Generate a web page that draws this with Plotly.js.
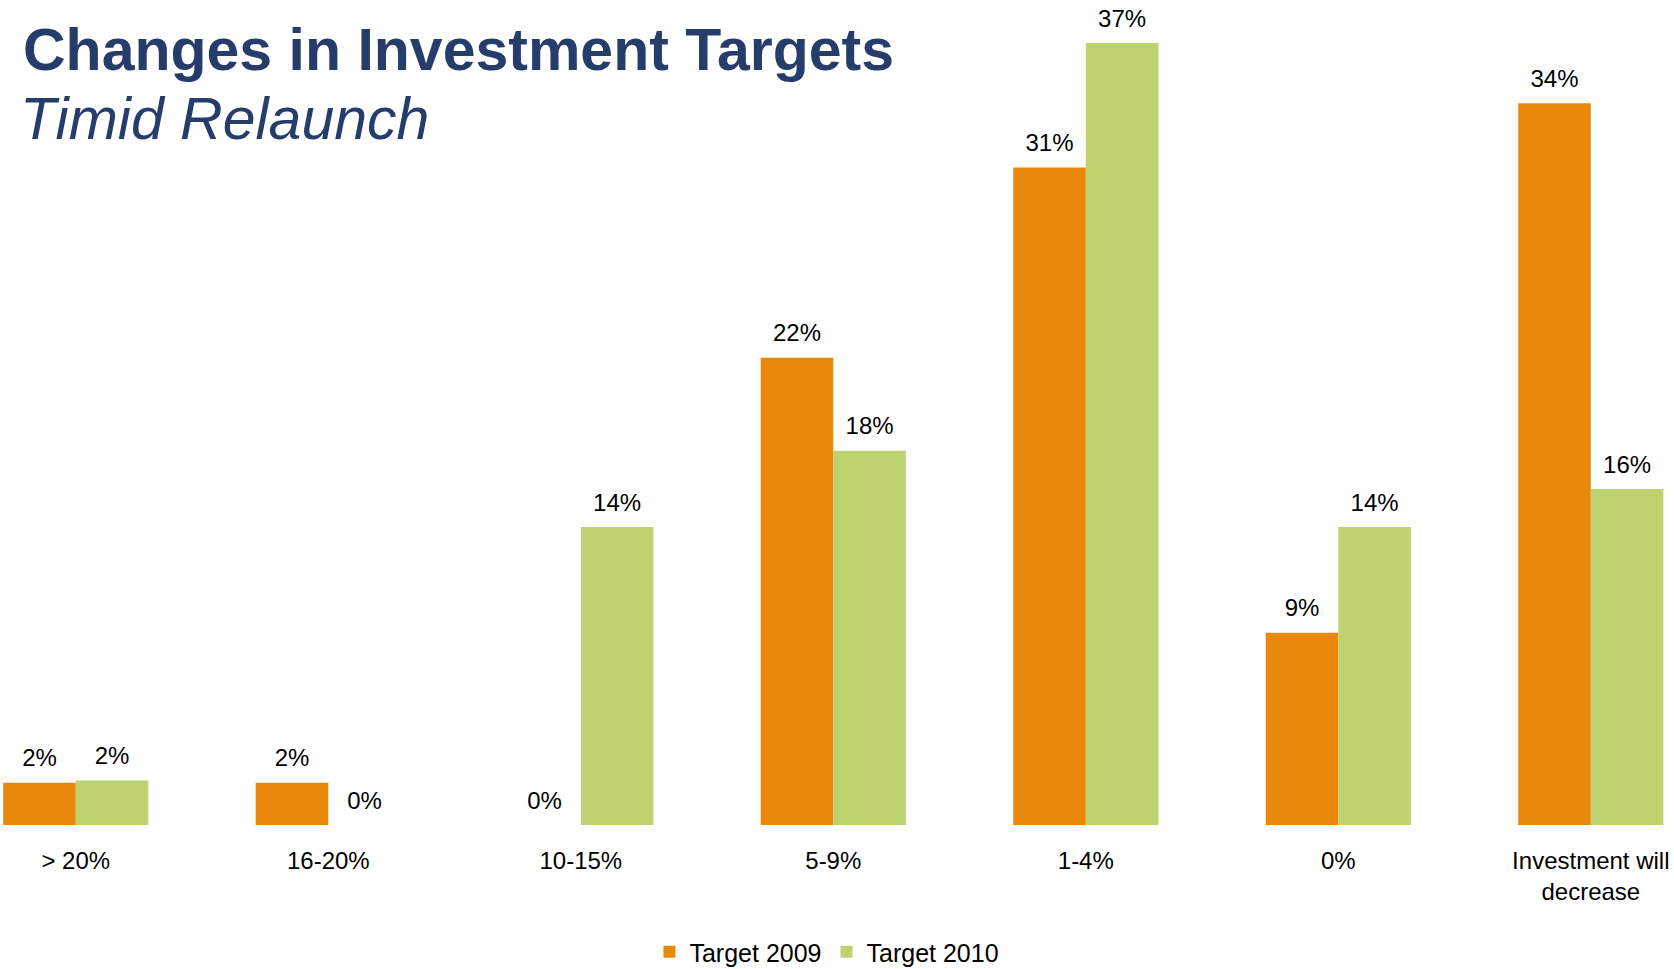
<!DOCTYPE html>
<html>
<head>
<meta charset="utf-8">
<script src="https://cdn.plot.ly/plotly-3.0.1.min.js"></script>
<style>
html,body{margin:0;padding:0;background:#fff;}
#chart{width:1674px;height:969px;}
</style>
</head>
<body>
<div id="chart"></div>
<script>
const categories = ["> 20%", "16-20%", "10-15%", "5-9%", "1-4%", "0%", "Investment will<br>decrease"];
const target2009 = [2.0, 2.0, 0, 22.1, 31.1, 9.1, 34.15];
const target2010 = [2.1, 0, 14.1, 17.7, 37.0, 14.1, 15.9];
const seriesNames = ["Target 2009", "Target 2010"];
const seriesColors = ["#E8890C", "#BED270"];

const FONT = "Liberation Sans, Arial, Helvetica, sans-serif";
const NAVY = "#263D6C";
const GAP = 0.425;

const seriesValues = [target2009, target2010];

const traces = [];
seriesValues.forEach((vals, i) => {
  traces.push({
    type: "bar", name: seriesNames[i], x: categories, y: vals,
    marker: {color: seriesColors[i]},
    hoverinfo: "x+y"
  });
});
// value labels, grouped like the bars
seriesValues.forEach((vals, i) => {
  traces.push({
    type: "scatter", mode: "markers+text", orientation: "v",
    x: categories, y: vals, showlegend: false, hoverinfo: "skip",
    offsetgroup: "lab" + i, alignmentgroup: "labels",
    marker: {size: 15, color: "rgba(0,0,0,0)"},
    text: vals.map(v => Math.round(v) + "%"),
    textposition: "top center", cliponaxis: false,
    textfont: {family: FONT, size: 24, color: "#000"}
  });
});

const layout = {
  width: 1674, height: 969,
  margin: {l: 0, r: 0, t: 0, b: 144, autoexpand: false},
  paper_bgcolor: "#fff", plot_bgcolor: "#fff",
  font: {family: FONT, size: 24, color: "#000"},
  barmode: "group", bargap: GAP, bargroupgap: 0,
  scattermode: "group", scattergap: GAP,
  showlegend: true, hovermode: "closest",
  legend: {orientation: "h", x: 0.494, xanchor: "center", y: -0.154, yanchor: "middle",
           font: {family: FONT, size: 25, color: "#000"}, traceorder: "normal"},
  xaxis: {
    type: "category", range: [-0.3002, 6.3295], fixedrange: true,
    showline: false, showgrid: false, zeroline: false,
    ticks: "outside", ticklen: 14, tickcolor: "rgba(0,0,0,0)",
    tickfont: {family: FONT, size: 24, color: "#000"}
  },
  yaxis: {
    range: [0, 39.03], visible: false, fixedrange: true,
    showgrid: false, zeroline: false
  },
  annotations: [
    {text: "<b>Changes in Investment Targets</b>", xref: "paper", yref: "paper",
     x: 21 / 1674, y: 1 - 50 / 825, xanchor: "left", yanchor: "middle", showarrow: false,
     font: {family: FONT, size: 59, color: NAVY}},
    {text: "<i>Timid Relaunch</i>", xref: "paper", yref: "paper",
     x: 18 / 1674, y: 1 - 119 / 825, xanchor: "left", yanchor: "middle", showarrow: false,
     font: {family: FONT, size: 59, color: NAVY}}
  ]
};

Plotly.newPlot("chart", traces, layout, {displayModeBar: false});
</script>
</body>
</html>
